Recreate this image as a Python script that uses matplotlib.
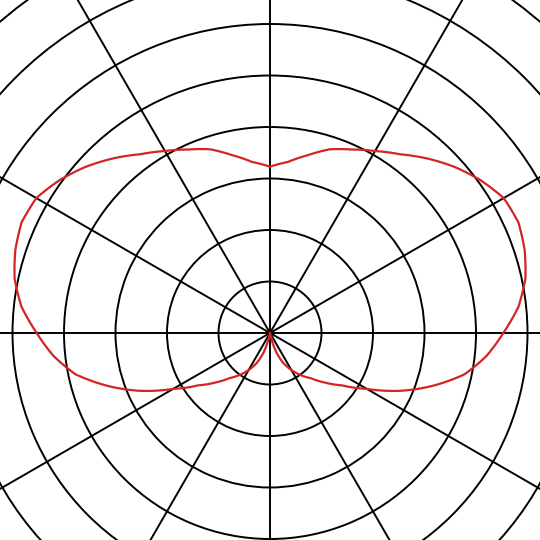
import numpy as np
import matplotlib
matplotlib.use("Agg")
import matplotlib.pyplot as plt

# pattern: angle in degrees, radius in grid-circle units
angles_deg = [-90, -78, -75, -72, -66, -60, -54, -48, -42, -36, -30, -24, -18, -12, -6,
              0, 6, 12, 18, 24, 30, 36, 42, 48, 54, 60, 66, 72, 78, 84,
              90, 96, 102, 108, 114, 120, 126, 132, 138, 144, 150, 156, 162, 168, 174,
              180, 186, 192, 198, 204, 210, 216, 222, 228, 234, 240, 246, 252, 255, 258, 270]
radius = [0.0, 0.0, 0.20, 0.39, 0.64, 0.83, 1.01, 1.18, 1.44, 1.73, 2.17, 2.76, 3.32, 3.86, 4.23,
          4.53, 4.85, 5.07, 5.20, 5.28, 5.24, 5.05, 4.82, 4.56, 4.29, 4.08, 3.90, 3.75, 3.53, 3.34,
          3.23, 3.34, 3.53, 3.75, 3.90, 4.08, 4.29, 4.56, 4.82, 5.05, 5.24, 5.28, 5.20, 5.07, 4.85,
          4.53, 4.23, 3.86, 3.32, 2.76, 2.17, 1.73, 1.44, 1.18, 1.01, 0.83, 0.64, 0.39, 0.20, 0.0, 0.0]

ring_values = [1, 2, 3, 4, 5, 6, 7, 8]
spoke_angles = list(range(0, 360, 30))
r_max = 9

fig = plt.figure(figsize=(5.4, 5.4), dpi=100)
# the grid is bigger than the picture, centre sits at (270, 333) px
unit_px = 51.5
size = 2 * r_max * unit_px / 540
cx, cy = 0.5, (540 - 333) / 540
ax = fig.add_axes([cx - size / 2, cy - size / 2, size, size], projection="polar")

ax.set_ylim(0, r_max)
ax.set_rgrids(ring_values, labels=[""] * len(ring_values))
ax.set_thetagrids(spoke_angles, labels=[""] * len(spoke_angles))
ax.grid(True, color="black", lw=1.4)
ax.spines["polar"].set_visible(False)
ax.tick_params(length=0)

line, = ax.plot(np.radians(angles_deg), radius, color="#d42424", lw=1.6, zorder=5)
# follow the polar grid between points instead of straight chords
line.get_path()._interpolation_steps = 12

fig.savefig("out.png", dpi=100)
